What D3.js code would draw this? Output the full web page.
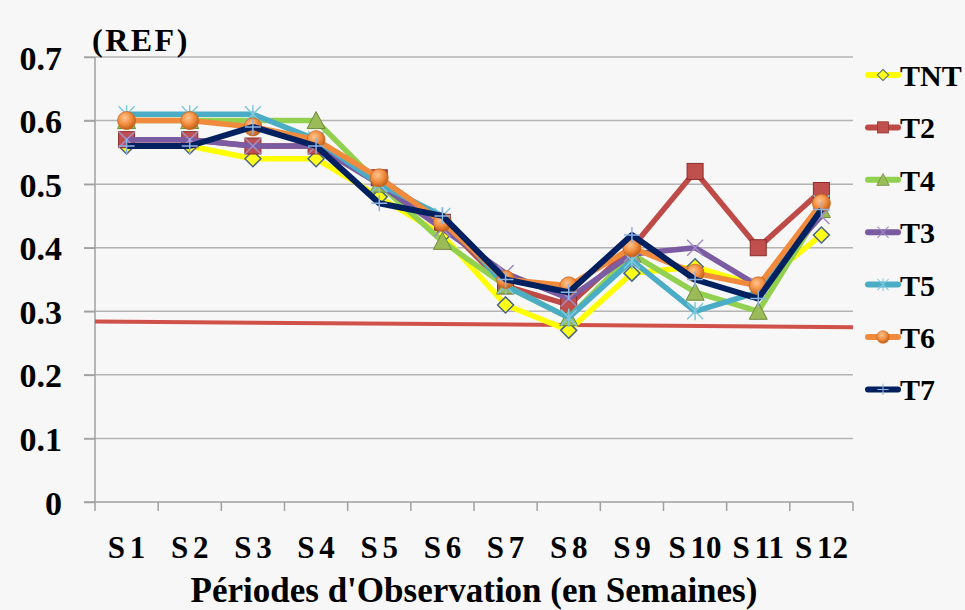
<!DOCTYPE html>
<html>
<head>
<meta charset="utf-8">
<script src="https://cdn.jsdelivr.net/npm/d3@7"></script>
<style>
  html, body { margin: 0; padding: 0; background: #f7f7f7; }
  svg { display: block; }
  text { font-family: "Liberation Serif", "Times New Roman", serif; font-weight: bold; fill: #000; }
</style>
</head>
<body>
<div id="chart"></div>
<script>
// categories (weeks)
const weeks = ["S 1", "S 2", "S 3", "S 4", "S 5", "S 6", "S 7", "S 8", "S 9", "S 10", "S 11", "S 12"];
const yTicks = [0, 0.1, 0.2, 0.3, 0.4, 0.5, 0.6, 0.7];

// series values
const TNT = [0.56, 0.56, 0.54, 0.54, 0.48, 0.42, 0.31, 0.27, 0.36, 0.37, 0.34, 0.42];
const T2  = [0.57, 0.57, 0.56, 0.56, 0.51, 0.44, 0.34, 0.31, 0.40, 0.52, 0.40, 0.49];
const T4  = [0.60, 0.60, 0.60, 0.60, 0.50, 0.41, 0.34, 0.29, 0.39, 0.33, 0.30, 0.46];
const T3  = [0.57, 0.57, 0.56, 0.56, 0.50, 0.43, 0.36, 0.32, 0.39, 0.40, 0.34, 0.45];
const T5  = [0.61, 0.61, 0.61, 0.57, 0.50, 0.45, 0.34, 0.29, 0.38, 0.30, 0.33, 0.47];
const T6  = [0.60, 0.60, 0.59, 0.57, 0.51, 0.44, 0.35, 0.34, 0.40, 0.36, 0.34, 0.47];
const T7  = [0.56, 0.56, 0.59, 0.56, 0.47, 0.45, 0.35, 0.33, 0.42, 0.35, 0.32, 0.46];

// the hand drawn red reference line (start / end of the plot width)
const refPos = [0, 1];
const refVal = [0.284, 0.275];

const seriesNames = ["TNT", "T2", "T4", "T3", "T5", "T6", "T7"];
const seriesData = [TNT, T2, T4, T3, T5, T6, T7];

const style = {
  TNT: { line: "#ffff00", marker: "diamond", fill: "#ffff1a", stroke: "#4a6485" },
  T2:  { line: "#be4b48", marker: "square",  fill: "#c0504d", stroke: "#8c2d2a" },
  T4:  { line: "#92d050", marker: "triangle", fill: "#9bbb59", stroke: "#6d8a3a" },
  T3:  { line: "#7b5ba1", marker: "x",       fill: "none",    stroke: "#a28cc4" },
  T5:  { line: "#4bacc6", marker: "star",    fill: "none",    stroke: "#7fc8dc" },
  T6:  { line: "#f08a3c", marker: "circle",  fill: "#f79646", stroke: "#c8671e" },
  T7:  { line: "#002060", marker: "plus",    fill: "none",    stroke: "#8db3e2" }
};

const W = 965, H = 610;
const plot = { left: 95, right: 853, top: 57, bottom: 502 };

const svg = d3.select("#chart").append("svg")
  .attr("width", W)
  .attr("height", H);

svg.append("rect").attr("width", W).attr("height", H).attr("fill", "#f7f7f7");

const defs = svg.append("defs");
const grad = defs.append("radialGradient").attr("id", "orangeBall")
  .attr("cx", "40%").attr("cy", "35%").attr("r", "65%");
grad.append("stop").attr("offset", "0%").attr("stop-color", "#ffc58f");
grad.append("stop").attr("offset", "60%").attr("stop-color", "#f08a3c");
grad.append("stop").attr("offset", "100%").attr("stop-color", "#c0601a");

const x = d3.scalePoint().domain(weeks).range([plot.left, plot.right]).padding(0.5);
const xRef = d3.scaleLinear().domain([0, 1]).range([plot.left, plot.right]);
const y = d3.scaleLinear().domain([0, 0.7]).range([plot.bottom, plot.top]);

// gridlines
svg.append("g")
  .selectAll("line")
  .data(yTicks.filter(d => d > 0))
  .join("line")
  .attr("x1", plot.left - 11).attr("x2", plot.right)
  .attr("y1", d => y(d)).attr("y2", d => y(d))
  .attr("stroke", "#b4b4b4").attr("stroke-width", 1.5);

// y axis
const yAxis = svg.append("g")
  .attr("transform", `translate(${plot.left},0)`)
  .call(d3.axisLeft(y).tickValues(yTicks).tickSize(11).tickFormat(d => d === 0 ? "0" : d3.format(".1f")(d)));
yAxis.select(".domain").attr("stroke", "#a0a0a0").attr("stroke-width", 1.5).attr("d", `M0,${plot.top}V${plot.bottom}`);
yAxis.selectAll(".tick line").attr("stroke", "#a0a0a0").attr("stroke-width", 1.5);
yAxis.selectAll(".tick text")
  .attr("x", -33).attr("dy", null).attr("y", 12)
  .style("font-size", "34px")
  .style("font-family", "'Liberation Serif', serif")
  .style("font-weight", "bold");

// x axis
const xAxis = svg.append("g")
  .attr("transform", `translate(0,${plot.bottom})`)
  .call(d3.axisBottom(x).tickSize(0).tickFormat(""));
xAxis.select(".domain").attr("stroke", "#a0a0a0").attr("stroke-width", 1.5).attr("d", `M${plot.left - 11},0H${plot.right}`);
xAxis.selectAll(".tick").remove();

// x tick marks at the category borders
const step = x.step();
svg.append("g")
  .selectAll("line")
  .data(d3.range(weeks.length + 1))
  .join("line")
  .attr("x1", i => plot.left + i * step).attr("x2", i => plot.left + i * step)
  .attr("y1", plot.bottom).attr("y2", plot.bottom + 9)
  .attr("stroke", "#a0a0a0").attr("stroke-width", 1.5);

// x labels
svg.append("g")
  .selectAll("text")
  .data(weeks)
  .join("text")
  .attr("x", d => x(d)).attr("y", 558)
  .attr("text-anchor", "middle")
  .style("font-size", "31px")
  .style("word-spacing", "-3px")
  .text(d => d);

// axis title
svg.append("text")
  .attr("x", 474).attr("y", 602)
  .attr("text-anchor", "middle")
  .style("font-size", "35px")
  .text("Périodes d'Observation (en Semaines)");

// (REF) label
svg.append("text")
  .attr("x", 92).attr("y", 51)
  .style("font-size", "32px")
  .style("letter-spacing", "2.5px")
  .text("(REF)");

// reference line
svg.append("path")
  .datum(refPos.map((p, i) => [p, refVal[i]]))
  .attr("fill", "none")
  .attr("stroke", "#d0504a")
  .attr("stroke-width", 4)
  .attr("d", d3.line().x(d => xRef(d[0])).y(d => y(d[1])));

// marker drawing
function drawMarker(g, type, s) {
  const r = 8;
  if (type === "diamond") {
    g.append("path").attr("d", `M0,${-r}L${r},0L0,${r}L${-r},0Z`)
      .attr("fill", s.fill).attr("stroke", s.stroke).attr("stroke-width", 1.5);
  } else if (type === "square") {
    g.append("rect").attr("x", -r).attr("y", -r).attr("width", 2 * r).attr("height", 2 * r)
      .attr("fill", s.fill).attr("stroke", s.stroke).attr("stroke-width", 1);
  } else if (type === "triangle") {
    g.append("path").attr("d", `M0,${-r - 1}L${r + 1},${r}L${-r - 1},${r}Z`)
      .attr("fill", s.fill).attr("stroke", s.stroke).attr("stroke-width", 1);
  } else if (type === "circle") {
    g.append("circle").attr("r", r + 1)
      .attr("fill", "url(#orangeBall)").attr("stroke", s.stroke).attr("stroke-width", 0.8);
  } else if (type === "x") {
    g.append("path").attr("d", `M${-r},${-r}L${r},${r}M${-r},${r}L${r},${-r}`)
      .attr("stroke", s.stroke).attr("stroke-width", 1.5).attr("fill", "none");
  } else if (type === "star") {
    g.append("path").attr("d", `M${-r},${-r}L${r},${r}M${-r},${r}L${r},${-r}M0,${-r - 1}V${r + 1}`)
      .attr("stroke", s.stroke).attr("stroke-width", 1.5).attr("fill", "none");
  } else if (type === "plus") {
    g.append("path").attr("d", `M${-r},0H${r}M0,${-r}V${r}`)
      .attr("stroke", s.stroke).attr("stroke-width", 1.5).attr("fill", "none");
  }
}

const line = d3.line().x((d, i) => x(weeks[i])).y(d => y(d));

seriesNames.forEach((name, k) => {
  const s = style[name];
  const g = svg.append("g").attr("class", "series");
  g.append("path")
    .datum(seriesData[k])
    .attr("fill", "none")
    .attr("stroke", s.line)
    .attr("stroke-width", name === "T7" ? 6 : 5.5)
    .attr("stroke-linejoin", "round")
    .attr("d", line);
  g.selectAll("g.m")
    .data(seriesData[k])
    .join("g")
    .attr("class", "m")
    .attr("transform", (d, i) => `translate(${x(weeks[i])},${y(d)})`)
    .each(function () { drawMarker(d3.select(this), s.marker, s); });
});

// legend
const legend = svg.append("g").attr("transform", "translate(868,75)");
const item = legend.selectAll("g")
  .data(seriesNames)
  .join("g")
  .attr("transform", (d, i) => `translate(0,${i * 52.4})`);
item.append("line")
  .attr("x1", 0).attr("x2", 30).attr("y1", 0).attr("y2", 0)
  .attr("stroke", d => style[d].line)
  .attr("stroke-width", 6)
  .attr("stroke-linecap", "round");
item.append("g")
  .attr("transform", "translate(15,0) scale(0.7)")
  .each(function (d) { drawMarker(d3.select(this), style[d].marker, style[d]); });
item.append("text")
  .attr("x", 32).attr("y", 11)
  .style("font-size", "30px")
  .text(d => d);
</script>
</body>
</html>
